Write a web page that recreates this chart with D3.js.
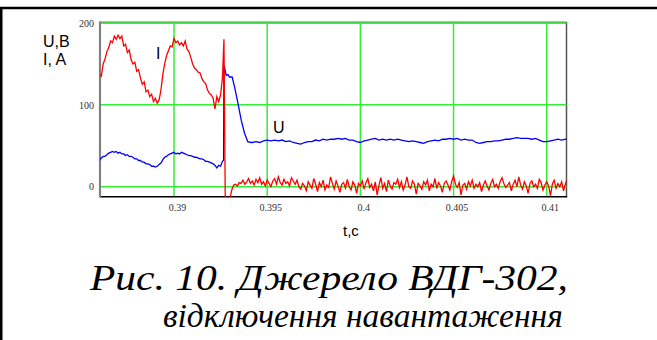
<!DOCTYPE html>
<html><head><meta charset="utf-8">
<script src="https://cdn.jsdelivr.net/npm/d3@7"></script>
<style>html,body{margin:0;padding:0;background:#fff;overflow:hidden}</style>
</head><body>
<svg id="c" width="657" height="340"></svg>
<script>
// ---------- data ----------
const xTicks = [0.39, 0.395, 0.4, 0.405, 0.41];
const yTicks = [0, 100, 200];
const xTickLabels = ["0.39", "0.395", "0.4", "0.405", "0.41"];
const yTickLabels = ["0", "100", "200"];

// current I (A): before switch-off, sampled every 0.1 ms from 0.3860 s
const iBeforeStart = 0.3860, iBeforeStep = 0.0001;
const iBefore = [138,135,150,156,165,170,178,176,184,180,185,181,184,172,174,164,167,155,150,152,
  141,143,133,125,128,116,118,110,113,104,108,102,106,118,137,150,160,166,172,171,
  181,176,178,173,176,172,178,168,165,158,150,145,143,140,139,132,128,126,118,114,
  112,108,95,110,104,112,133];
// switch-off spike
const iSpikeT = [0.39268, 0.39275, 0.39300];
const iSpikeV = [180, -15, -15];
// current after switch-off, every 0.1 ms from 0.3931 s
const iAfterStart = 0.3931, iAfterStep = 0.0001;
const iAfter = [-4,2,3,1,5,4,8,3,6,10,4,7,2,9,5,11,3,6,1,8,4,0,7,10,3,12,5,2,9,4,6,1,11,7,3,8,
  0,-3,4,1,-5,6,2,-2,10,3,
  -6,5,0,8,-4,2,-1,12,4,-3,
  7,1,-7,3,5,-2,9,0,-4,6,
  2,-8,4,1,7,-3,5,10,-1,3,
  -5,6,-10,2,11,-2,4,-6,8,1,
  -3,5,3,9,-1,6,-4,2,12,0,
  -2,7,3,-9,4,1,-3,6,2,8,
  -5,3,0,10,-2,5,1,-7,4,7,
  2,-4,6,13,3,-1,5,-10,2,4,
  -3,6,1,8,-2,3,0,5,-6,2,
  7,1,-4,4,9,0,3,-2,6,11,
  4,-1,2,5,-5,3,8,0,12,2,
  -3,6,1,-8,4,7,0,3,-2,9,
  5,-4,2,6,1,-11,3,8,-2,4,
  0,6,-5,3,10,1,-3,5,2,4];

// voltage U (V): before switch-off, every 0.1 ms from 0.3860 s
const uBeforeStart = 0.3860, uBeforeStep = 0.0001;
const uBefore = [32,35,37,37,39,41,42,43,42,43,41,42,40,40,38,39,37,37,36,34,
  34,32,32,30,30,28,28,27,25,25,24,25,27,29,33,36,37,39,40,41,
  42,40,41,40,42,41,40,39,38,38,37,36,36,35,34,34,33,31,31,30,
  29,28,26,23,26,25,31];
// voltage surge and decay
const uSurgeT = [0.39266, 0.39268, 0.39271, 0.39280, 0.39289, 0.39298, 0.39312, 0.39325, 0.39343, 0.39361, 0.39379, 0.39396, 0.39414];
const uSurgeV = [32, 144, 146, 136, 137, 134, 134, 122, 102, 81, 65, 55, 54];
// voltage after, every 0.2 ms from 0.3942 s
const uAfterStart = 0.3942, uAfterStep = 0.0002;
const uAfter = [54,55,54,56,57,56,57,56,57,55,56,54,53,52,54,55,55,57,56,58,
  57,58,58,59,58,59,57,57,55,54,56,57,58,59,57,58,57,58,57,58,
  57,56,55,56,55,54,53,55,56,57,56,58,58,59,58,59,57,58,57,57,
  54,53,54,55,55,56,56,57,58,58,59,60,59,59,59,58,59,57,55,55,
  56,57,58,57,58,58];

// ---------- build series ----------
function grid(start, step, vals){ return vals.map((v,i)=>[start+i*step, v]); }
const iSeries = grid(iBeforeStart, iBeforeStep, iBefore)
  .concat(iSpikeT.map((t,i)=>[t, iSpikeV[i]]))
  .concat(grid(iAfterStart, iAfterStep, iAfter));
const uSeries = grid(uBeforeStart, uBeforeStep, uBefore)
  .concat(uSurgeT.map((t,i)=>[t, uSurgeV[i]]))
  .concat(grid(uAfterStart, uAfterStep, uAfter));

// ---------- drawing ----------
const svg = d3.select("#c");
const L = 100, R = 566.5, T = 23, B = 196.7;
const x = d3.scaleLinear().domain([0.38603, 0.41106]).range([L, R]);
const y = d3.scaleLinear().domain([0, 200]).range([186.7, T]);
const serifFont = "'Liberation Serif'";
const sansFont = "'Liberation Sans'";

// outer frame
svg.append("line").attr("x1",0).attr("x2",657).attr("y1",8).attr("y2",8).attr("stroke","#000").attr("stroke-width",2.6);
svg.append("line").attr("x1",1.2).attr("x2",1.2).attr("y1",7).attr("y2",340).attr("stroke","#000").attr("stroke-width",2.6);

svg.append("defs").append("clipPath").attr("id","clip")
  .append("rect").attr("x",L).attr("y",T-3).attr("width",R-L).attr("height",B-T+3);

// frame of plot
svg.append("line").attr("x1",L).attr("x2",R).attr("y1",T-0.5).attr("y2",T-0.5).attr("stroke","#777").attr("stroke-width",2);
svg.append("line").attr("x1",R).attr("x2",R).attr("y1",T-1).attr("y2",B).attr("stroke","#555").attr("stroke-width",1.5);

// grid
const gridG = svg.append("g");
gridG.selectAll(".gx").data(xTicks).enter().append("line")
  .attr("x1",d=>x(d)).attr("x2",d=>x(d)).attr("y1",T).attr("y2",B)
  .attr("stroke","#33ee33").attr("stroke-width",1.5);
gridG.selectAll(".gy").data(yTicks).enter().append("line")
  .attr("x1",L).attr("x2",R).attr("y1",d=>y(d)).attr("y2",d=>y(d))
  .attr("stroke","#33ee33").attr("stroke-width",1.5);

// axes lines
svg.append("line").attr("x1",L).attr("x2",R+0.7).attr("y1",B).attr("y2",B).attr("stroke","#000").attr("stroke-width",1.6);
svg.append("line").attr("x1",L).attr("x2",L).attr("y1",T-1.5).attr("y2",B+0.8).attr("stroke","#808080").attr("stroke-width",2.2);

// tick labels via axes
const xa = d3.axisBottom(x).tickValues(xTicks).tickSize(0).tickFormat((d,i)=>xTickLabels[i]);
const gx = svg.append("g").attr("transform",`translate(0,${B})`).call(xa);
gx.select(".domain").remove();
gx.attr("font-family",serifFont);
gx.selectAll("text").attr("dx",3).attr("dy",11.5).attr("font-family",serifFont).attr("font-size",10).attr("fill","#333");

const ya = d3.axisLeft(y).tickValues(yTicks).tickSize(0).tickFormat((d,i)=>yTickLabels[i]);
const gy = svg.append("g").attr("transform",`translate(${L-3},0)`).call(ya);
gy.select(".domain").remove();
gy.attr("font-family",serifFont);
gy.selectAll("text").attr("font-family",serifFont).attr("font-size",10).attr("fill","#333");

// series
const line = d3.line().x(d=>x(d[0])).y(d=>y(d[1]));
const plot = svg.append("g").attr("clip-path","url(#clip)");
plot.append("path").datum(uSeries).attr("d",line).attr("fill","none").attr("stroke","#0000ff").attr("stroke-width",1.3);
plot.append("path").datum(iSeries).attr("d",line).attr("fill","none").attr("stroke","#ff0000").attr("stroke-width",1.3);

// labels
svg.append("text").attr("x",43).attr("y",46.5).attr("font-family",sansFont).attr("font-size",16).text("U,B");
svg.append("text").attr("x",43).attr("y",64.5).attr("font-family",sansFont).attr("font-size",16).text("I, A");
svg.append("text").attr("x",156).attr("y",59).attr("font-family",sansFont).attr("font-size",16).text("I");
svg.append("text").attr("x",273).attr("y",133).attr("font-family",sansFont).attr("font-size",16).text("U");
svg.append("text").attr("x",343).attr("y",236).attr("font-family",sansFont).attr("font-size",15).text("t,c");

// caption
svg.append("text").attr("x",90).attr("y",289.5).attr("font-family",serifFont)
  .attr("font-style","italic").attr("font-size",35)
  .attr("textLength",478).attr("lengthAdjust","spacingAndGlyphs")
  .text("Рис. 10. Джерело ВДГ-302,");
svg.append("text").attr("x",163).attr("y",326.5).attr("font-family",serifFont)
  .attr("font-style","italic").attr("font-size",33.5)
  .text("відключення навантаження");
</script>
</body></html>
